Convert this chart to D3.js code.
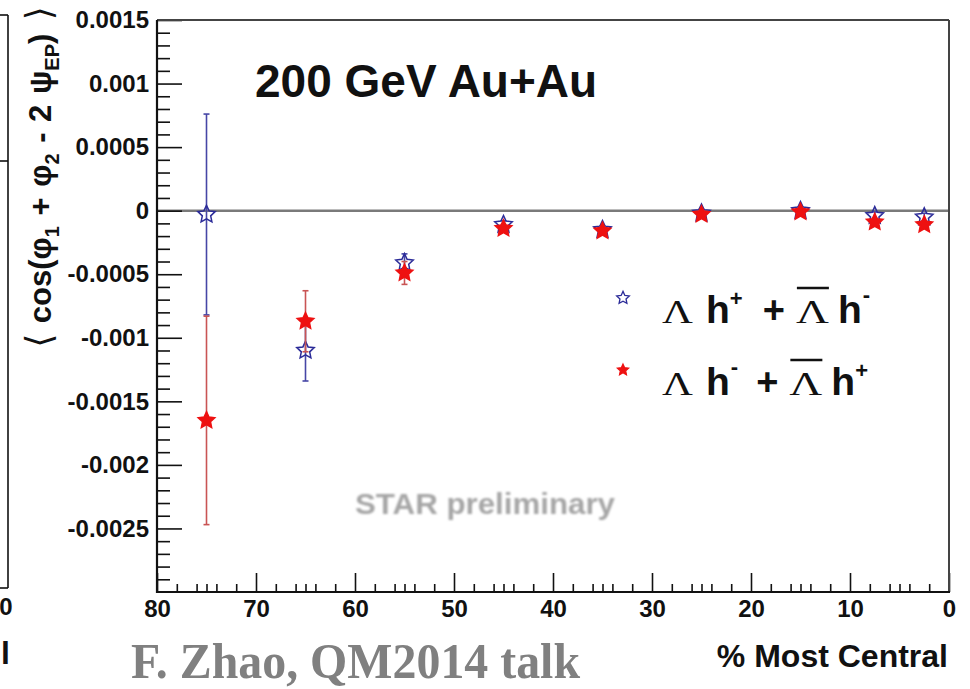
<!DOCTYPE html>
<html>
<head>
<meta charset="utf-8">
<script src="https://cdn.jsdelivr.net/npm/d3@7"></script>
<style>
  html, body { margin: 0; padding: 0; background: #fff; }
  svg { display: block; }
</style>
</head>
<body>
<svg id="chart" width="970" height="689" font-family="'Liberation Sans', Arial, Helvetica, sans-serif"></svg>
<script>
// Centrality bin centres (% most central)
const centrality = [75, 65, 55, 45, 35, 25, 15, 7.5, 2.5];

// <cos(phi1 + phi2 - 2 Psi_EP)> for Lambda h+ + antiLambda h-
const lamHpValues = [-0.00003, -0.00110, -0.00041, -0.00011, -0.00015, -0.00002, 0.00000, -0.00004, -0.00005];
const lamHpErrors = [0.00079, 0.00024, 0.00007, 0.00003, 0.00003, 0.00003, 0.00003, 0.00003, 0.00003];

// <cos(phi1 + phi2 - 2 Psi_EP)> for Lambda h- + antiLambda h+
const lamHmValues = [-0.00165, -0.00087, -0.00049, -0.00014, -0.00016, -0.00003, -0.00001, -0.00009, -0.00011];
const lamHmErrors = [0.00082, 0.00024, 0.00009, 0.00003, 0.00003, 0.00003, 0.00003, 0.00003, 0.00003];

// Axis ticks
const xTickValues = [80, 70, 60, 50, 40, 30, 20, 10, 0];
const xTickLabels = ["80", "70", "60", "50", "40", "30", "20", "10", "0"];
const yTickValues = [-0.0025, -0.002, -0.0015, -0.001, -0.0005, 0, 0.0005, 0.001, 0.0015];
const yTickLabels = ["-0.0025", "-0.002", "-0.0015", "-0.001", "-0.0005", "0", "0.0005", "0.001", "0.0015"];

const svg = d3.select("#chart");
const sans = "'Liberation Sans', Arial, Helvetica, sans-serif";
const serif = "'Liberation Serif', 'Times New Roman', serif";
const frame = { left: 157, right: 949, top: 20, bottom: 592 };

const x = d3.scaleLinear().domain([80, 0]).range([frame.left, frame.right]);
const y = d3.scaleLinear().domain([-0.003, 0.0015]).range([frame.bottom, frame.top]);

// Star marker in the ROOT style (point up, fairly fat body)
const rootStar = {
  draw(ctx, size) {
    const r = Math.sqrt(size);
    const ri = r * 0.48;
    for (let i = 0; i < 10; i++) {
      const a = -Math.PI / 2 + i * Math.PI / 5;
      const rr = i % 2 ? ri : r;
      const px = rr * Math.cos(a), py = rr * Math.sin(a);
      if (i === 0) ctx.moveTo(px, py); else ctx.lineTo(px, py);
    }
    ctx.closePath();
  }
};
const star = d3.symbol().type(rootStar);

// Neighbouring panel edge at the far left of the figure
const edge = svg.append("g").attr("stroke", "#111").attr("stroke-width", 1.6);
edge.append("line").attr("x1", 8).attr("x2", 8).attr("y1", 15).attr("y2", 588);
edge.append("line").attr("x1", 0).attr("x2", 8).attr("y1", 15).attr("y2", 15);
edge.append("line").attr("x1", 0).attr("x2", 8).attr("y1", 161).attr("y2", 161);
edge.append("line").attr("x1", 0).attr("x2", 8).attr("y1", 588).attr("y2", 588);
svg.append("text").attr("x", 6).attr("y", 615).attr("text-anchor", "middle")
  .attr("font-size", 24).attr("font-weight", "bold").attr("fill", "#111").text("0");
svg.append("text").attr("x", 10).attr("y", 664).attr("text-anchor", "end")
  .attr("font-size", 32).attr("font-weight", "bold").attr("fill", "#111").text("l");

// Zero reference line
svg.append("line")
  .attr("x1", frame.left).attr("x2", frame.right)
  .attr("y1", y(0)).attr("y2", y(0))
  .attr("stroke", "#7a7a7a").attr("stroke-width", 2.5);

// Y axis: major ticks with labels, minor ticks, all pointing inward
const yMinor = d3.range(-0.003, 0.00151, 0.0001).map(v => +v.toFixed(4))
  .filter(v => !yTickValues.includes(v) && Math.abs(v + 0.003) > 1e-9);
const yMajorAxis = d3.axisLeft(y).tickValues(yTickValues)
  .tickFormat((d, i) => yTickLabels[i]).tickSize(-25).tickPadding(8);
const yMinorAxis = d3.axisLeft(y).tickValues(yMinor).tickFormat("").tickSize(-13);
const gy = svg.append("g").attr("transform", `translate(${frame.left},0)`).call(yMajorAxis);
const gym = svg.append("g").attr("transform", `translate(${frame.left},0)`).call(yMinorAxis);

// X axis: major ticks with labels, minor ticks at even values and half-decades
const xMinor = d3.range(0, 80, 1).filter(v => v % 10 !== 0 && (v % 2 === 0 || v % 5 === 0));
const xMajorAxis = d3.axisBottom(x).tickValues(xTickValues)
  .tickFormat((d, i) => xTickLabels[i]).tickSize(-19).tickPadding(8);
const xMinorAxis = d3.axisBottom(x).tickValues(xMinor).tickFormat("").tickSize(-8);
const gx = svg.append("g").attr("transform", `translate(0,${frame.bottom})`).call(xMajorAxis);
const gxm = svg.append("g").attr("transform", `translate(0,${frame.bottom})`).call(xMinorAxis);

[gy, gym, gx, gxm].forEach(g => {
  g.attr("font-family", sans).attr("font-size", 24);
  g.select(".domain").remove();
  g.selectAll(".tick line").attr("stroke", "#111").attr("stroke-width", 1.6);
  g.selectAll(".tick text").attr("fill", "#111").attr("font-weight", "bold");
});

// Frame
svg.append("line").attr("x1", frame.left).attr("x2", frame.right).attr("y1", frame.top).attr("y2", frame.top)
  .attr("stroke", "#444").attr("stroke-width", 2);
svg.append("line").attr("x1", frame.right).attr("x2", frame.right).attr("y1", frame.top).attr("y2", frame.bottom)
  .attr("stroke", "#444").attr("stroke-width", 2);
svg.append("line").attr("x1", frame.left).attr("x2", frame.left).attr("y1", frame.top).attr("y2", frame.bottom + 1)
  .attr("stroke", "#111").attr("stroke-width", 2.2);
svg.append("line").attr("x1", frame.left - 1).attr("x2", frame.right + 1).attr("y1", frame.bottom).attr("y2", frame.bottom)
  .attr("stroke", "#111").attr("stroke-width", 2.2);

// Data series
const series = [
  { name: "lamHp", values: lamHpValues, errors: lamHpErrors, stroke: "#2b2b98", bar: "#4646a6", fill: "none", size: 84 },
  { name: "lamHm", values: lamHmValues, errors: lamHmErrors, stroke: "#ee1111", bar: "#c95454", fill: "#ee1111", size: 76 }
];

series.forEach(s => {
  const pts = centrality.map((c, i) => ({ c, v: s.values[i], e: s.errors[i] }));
  const g = svg.append("g").attr("class", s.name);
  g.selectAll("line.err").data(pts).enter().append("line").attr("class", "err")
    .attr("x1", d => x(d.c)).attr("x2", d => x(d.c))
    .attr("y1", d => y(d.v + d.e)).attr("y2", d => y(d.v - d.e))
    .attr("stroke", s.bar).attr("stroke-width", 1.6);
  g.selectAll("line.capT").data(pts).enter().append("line").attr("class", "capT")
    .attr("x1", d => x(d.c) - 3).attr("x2", d => x(d.c) + 3)
    .attr("y1", d => y(d.v + d.e)).attr("y2", d => y(d.v + d.e))
    .attr("stroke", s.bar).attr("stroke-width", 1.6);
  g.selectAll("line.capB").data(pts).enter().append("line").attr("class", "capB")
    .attr("x1", d => x(d.c) - 3).attr("x2", d => x(d.c) + 3)
    .attr("y1", d => y(d.v - d.e)).attr("y2", d => y(d.v - d.e))
    .attr("stroke", s.bar).attr("stroke-width", 1.6);
  g.selectAll("path.mk").data(pts).enter().append("path").attr("class", "mk")
    .attr("transform", d => `translate(${x(d.c)},${y(d.v)})`)
    .attr("d", star.size(s.size))
    .attr("fill", s.fill === "none" ? "#fff" : s.fill)
    .attr("fill-opacity", s.fill === "none" ? 0 : 1)
    .attr("stroke", s.stroke).attr("stroke-width", 1.5).attr("stroke-linejoin", "miter");
});

// Title
svg.append("text").attr("x", 255).attr("y", 97)
  .attr("font-size", 46).attr("font-weight", "bold").attr("fill", "#111")
  .text("200 GeV Au+Au");

// Watermark
const defs = svg.append("defs");
defs.append("filter").attr("id", "soft").append("feGaussianBlur").attr("stdDeviation", 0.8);
svg.append("text").attr("x", 355).attr("y", 514)
  .attr("font-size", 29).attr("font-weight", "bold").attr("fill", "#a6a6a6")
  .attr("textLength", 260).attr("lengthAdjust", "spacingAndGlyphs")
  .attr("filter", "url(#soft)")
  .text("STAR preliminary");

// Formula layout: pieces placed one after another
function formula(parent, x0, base, pieces) {
  let cx = x0;
  pieces.forEach(p => {
    cx += p.gap || 0;
    const t = parent.append("text")
      .attr("x", cx).attr("y", base - (p.raise || 0))
      .attr("font-size", p.size)
      .attr("font-weight", p.weight || "bold")
      .attr("font-family", p.family || sans)
      .attr("fill", "#111")
      .text(p.t);
    if (p.len) t.attr("textLength", p.len).attr("lengthAdjust", "spacingAndGlyphs");
    const w = p.len || t.node().getComputedTextLength();
    if (p.overline) {
      parent.append("line").attr("x1", cx + 1).attr("x2", cx + w)
        .attr("y1", base - p.overline).attr("y2", base - p.overline)
        .attr("stroke", "#111").attr("stroke-width", 2.4);
    }
    cx += w;
  });
}

const legendRows = [
  { base: 323, marker: series[0], mSize: 44,
    pieces: [
      { t: "Λ", family: serif, weight: "normal", size: 34, len: 31 },
      { t: "h", size: 39, gap: 13 },
      { t: "+", size: 22, raise: 17 },
      { t: "+", size: 38, gap: 20 },
      { t: "Λ", family: serif, weight: "normal", size: 34, len: 33, gap: 11, overline: 35 },
      { t: "h", size: 39, gap: 9 },
      { t: "-", size: 22, raise: 21, gap: 1 }
    ] },
  { base: 395, marker: series[1], mSize: 34,
    pieces: [
      { t: "Λ", family: serif, weight: "normal", size: 34, len: 31 },
      { t: "h", size: 39, gap: 13 },
      { t: "-", size: 22, raise: 21, gap: 1 },
      { t: "+", size: 38, gap: 18 },
      { t: "Λ", family: serif, weight: "normal", size: 34, len: 33, gap: 11, overline: 35 },
      { t: "h", size: 39, gap: 9 },
      { t: "+", size: 22, raise: 17 }
    ] }
];
const legend = svg.append("g");
legendRows.forEach(r => {
  const s = r.marker;
  legend.append("path")
    .attr("transform", `translate(623,${r.base - 25})`)
    .attr("d", star.size(r.mSize))
    .attr("fill", s.fill === "none" ? "#fff" : s.fill)
    .attr("fill-opacity", s.fill === "none" ? 0 : 1)
    .attr("stroke", s.stroke).attr("stroke-width", 1.3);
  formula(legend, 662, r.base, r.pieces);
});

// Y axis title, rotated
const yTitle = svg.append("text")
  .attr("transform", "translate(51,177) rotate(-90)")
  .attr("text-anchor", "middle")
  .attr("font-size", 31).attr("font-weight", "bold").attr("fill", "#111")
  .attr("word-spacing", 2);
yTitle.append("tspan").attr("font-family", "'DejaVu Sans', sans-serif").attr("font-weight", "normal")
  .attr("font-size", 36).text("⟨");
yTitle.append("tspan").text(" cos(φ");
yTitle.append("tspan").attr("font-size", 20).attr("dy", 8).text("1");
yTitle.append("tspan").attr("dy", -8).text(" + φ");
yTitle.append("tspan").attr("font-size", 20).attr("dy", 8).text("2");
yTitle.append("tspan").attr("dy", -8).text(" - 2 ψ");
yTitle.append("tspan").attr("font-size", 20).attr("dy", 8).text("EP");
yTitle.append("tspan").attr("dy", -8).text(")");
yTitle.append("tspan").attr("font-family", "'DejaVu Sans', sans-serif").attr("font-weight", "normal")
  .attr("font-size", 36).text(" ⟩");

// X axis title
svg.append("text").attr("x", 948).attr("y", 667).attr("text-anchor", "end")
  .attr("font-size", 32).attr("font-weight", "bold").attr("fill", "#111")
  .text("% Most Central");

// Credit line
svg.append("text").attr("x", 131).attr("y", 678)
  .attr("font-family", serif).attr("font-size", 50).attr("font-weight", "bold")
  .attr("fill", "#808080")
  .attr("textLength", 449).attr("lengthAdjust", "spacingAndGlyphs")
  .text("F. Zhao, QM2014 talk");
</script>
</body>
</html>
